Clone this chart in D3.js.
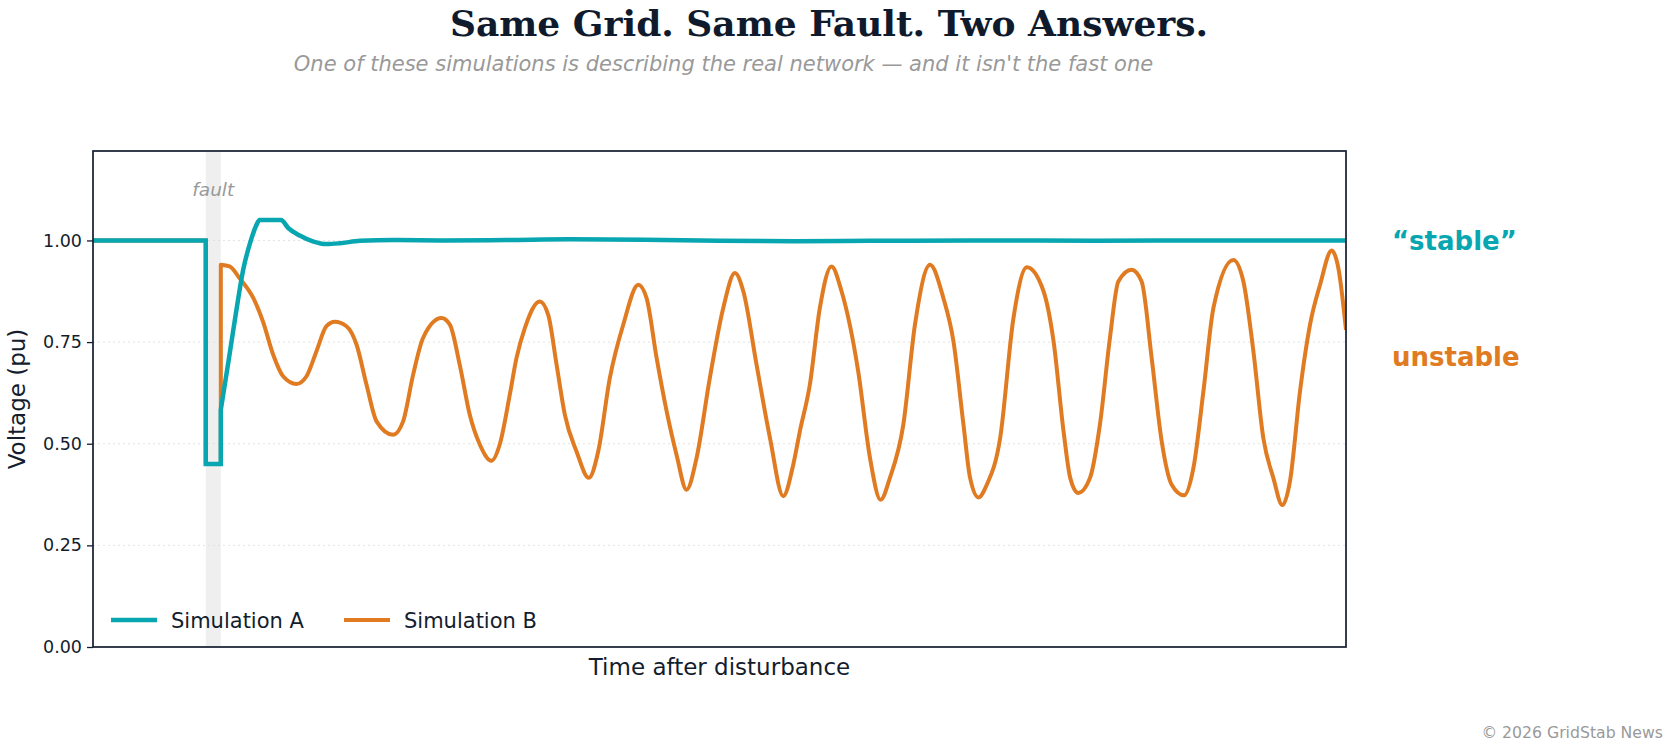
<!DOCTYPE html>
<html>
<head>
<meta charset="utf-8">
<script src="https://cdn.jsdelivr.net/npm/d3@7"></script>
<style>
  body { margin: 0; background: #fff; }
  svg text { font-family: "DejaVu Sans", sans-serif; }
</style>
</head>
<body>
<svg id="chart" width="1676" height="748"></svg>
<script>
// Data (time in s after start, voltage in pu)
const faultStart = 0.9;
const faultEnd = 1.02;

// Simulation A: step part (linear) then smooth recovery
const timeA_step = [0, 0.9, 0.9, 1.02, 1.02];
const voltA_step = [1.0, 1.0, 0.45, 0.45, 0.584];
const timeA = [1.02, 1.08, 1.14, 1.2, 1.26, 1.3, 1.33, 1.5, 1.56, 1.65, 1.76, 1.86, 1.97, 2.13, 2.4, 2.8,
               3.3, 3.8, 4.4, 5.0, 5.6, 6.2, 7.0, 8.0, 9.0, 10.0];
const voltA = [0.584, 0.7, 0.82, 0.93, 1.0, 1.035, 1.05, 1.05, 1.03, 1.012, 0.997, 0.991, 0.993, 0.999, 1.001, 1.0,
               1.001, 1.003, 1.002, 0.999, 0.998, 0.999, 1.0, 0.9995, 1.0, 1.0];

// Simulation B
const timeB_step = [0, 0.9, 0.9, 1.02, 1.02];
const voltB_step = [1.0, 1.0, 0.45, 0.45, 0.94];
const timeB = [1.02, 1.09, 1.17, 1.28, 1.357, 1.438, 1.517, 1.624, 1.704, 1.783, 1.863, 1.93, 2.023, 2.103,
  2.183, 2.263, 2.395, 2.475, 2.555, 2.634, 2.781, 2.848, 2.927, 3.007, 3.087, 3.18, 3.246, 3.326, 3.38, 3.447,
  3.566, 3.633, 3.7, 3.766, 3.859, 3.957, 4.032, 4.125, 4.232, 4.352, 4.418, 4.498, 4.578, 4.657, 4.737, 4.817,
  4.923, 5.03, 5.123, 5.19, 5.296, 5.403, 5.509, 5.589, 5.641, 5.721, 5.801, 5.894, 5.974, 6.107, 6.201, 6.286,
  6.36, 6.467, 6.56, 6.68, 6.787, 6.867, 6.947, 7.0, 7.067, 7.133, 7.24, 7.346, 7.453, 7.586, 7.666, 7.746,
  7.799, 7.863, 7.957, 8.036, 8.116, 8.183, 8.289, 8.369, 8.449, 8.529, 8.609, 8.707, 8.782, 8.862, 8.942,
  9.101, 9.181, 9.261, 9.34, 9.42, 9.492, 9.553, 9.633, 9.713, 9.793, 9.886, 9.939, 10.0];
const voltB = [0.94, 0.936, 0.907, 0.858, 0.8, 0.719, 0.666, 0.647, 0.666, 0.727, 0.789, 0.8, 0.789, 0.744,
  0.645, 0.555, 0.522, 0.555, 0.67, 0.76, 0.809, 0.793, 0.694, 0.571, 0.498, 0.458, 0.498, 0.62, 0.711, 0.785,
  0.85, 0.817, 0.694, 0.571, 0.481, 0.416, 0.481, 0.662, 0.793, 0.891, 0.858, 0.711, 0.58, 0.473, 0.387, 0.465,
  0.662, 0.834, 0.92, 0.875, 0.694, 0.514, 0.371, 0.449, 0.53, 0.645, 0.834, 0.936, 0.875, 0.678, 0.465, 0.362,
  0.416, 0.547, 0.793, 0.94, 0.858, 0.752, 0.547, 0.416, 0.368, 0.399, 0.514, 0.809, 0.934, 0.875, 0.752, 0.53,
  0.416, 0.379, 0.416, 0.547, 0.76, 0.899, 0.928, 0.899, 0.711, 0.506, 0.399, 0.373, 0.44, 0.629, 0.834,
  0.952, 0.899, 0.727, 0.514, 0.416, 0.349, 0.408, 0.629, 0.793, 0.891, 0.975, 0.932, 0.78];

const yTicks = [0, 0.25, 0.5, 0.75, 1.0];
const seriesNames = ['Simulation A', 'Simulation B'];
const endLabels = ['\u201cstable\u201d', 'unstable'];
const endLabelValues = [1.0, 0.715];

// Render params
const W = 1676, H = 748;
const margin = {left: 93, top: 151, right: 330, bottom: 101};
const teal = '#07a6b0', orange = '#e07b22', ink = '#131d2e', grey = '#999999';
const widthA = 4.5, widthB = 4;

const svg = d3.select('#chart');
const plotW = W - margin.left - margin.right;
const plotH = H - margin.top - margin.bottom;

const x = d3.scaleLinear().domain([0, 10]).range([margin.left, margin.left + plotW]);
const y = d3.scaleLinear().domain([0, 1.22]).range([margin.top + plotH, margin.top]);

// fault band
svg.append('rect')
  .attr('x', x(faultStart)).attr('y', margin.top)
  .attr('width', x(faultEnd) - x(faultStart)).attr('height', plotH)
  .attr('fill', '#efefef');

// grid
svg.append('g')
  .selectAll('line')
  .data(yTicks.filter(d => d > 0))
  .join('line')
  .attr('x1', margin.left).attr('x2', margin.left + plotW)
  .attr('y1', d => y(d)).attr('y2', d => y(d))
  .attr('stroke', '#e2e2e2').attr('stroke-width', 1).attr('stroke-dasharray', '2,3');

svg.append('text')
  .attr('x', (x(faultStart) + x(faultEnd)) / 2).attr('y', 196)
  .attr('text-anchor', 'middle').attr('font-style', 'italic')
  .attr('font-size', 18.5).attr('fill', grey)
  .text('fault');

// lines: linear step part joined to smooth part
const stepLine = d3.line().x(d => x(d[0])).y(d => y(d[1]));
const smoothLine = d3.line().x(d => x(d[0])).y(d => y(d[1])).curve(d3.curveMonotoneX);

function pathFor(ts, vs, ts2, vs2) {
  const a = stepLine(ts.map((t, i) => [t, vs[i]]));
  const b = smoothLine(ts2.map((t, i) => [t, vs2[i]]));
  return a + b.replace(/^M/, 'L');
}

svg.append('clipPath').attr('id', 'plotclip')
  .append('rect').attr('x', margin.left).attr('y', margin.top).attr('width', plotW).attr('height', plotH);

svg.append('path')
  .attr('d', pathFor(timeB_step, voltB_step, timeB, voltB))
  .attr('fill', 'none').attr('stroke', orange).attr('stroke-width', widthB)
  .attr('stroke-linejoin', 'round')
  .attr('clip-path', 'url(#plotclip)');

svg.append('path')
  .attr('d', pathFor(timeA_step, voltA_step, timeA, voltA))
  .attr('fill', 'none').attr('stroke', teal).attr('stroke-width', widthA)
  .attr('stroke-linejoin', 'miter')
  .attr('clip-path', 'url(#plotclip)');

// axes
const yAxis = svg.append('g')
  .attr('transform', `translate(${margin.left},0)`)
  .call(d3.axisLeft(y).tickValues(yTicks).tickFormat(d3.format('.2f')).tickSize(6).tickPadding(5));
yAxis.select('.domain').remove();
yAxis.selectAll('.tick line').attr('stroke', ink).attr('stroke-width', 1.3);
yAxis.selectAll('.tick text').attr('font-size', 17.5).attr('fill', ink)
  .attr('font-family', '"DejaVu Sans", sans-serif');

// frame
svg.append('rect')
  .attr('x', margin.left).attr('y', margin.top).attr('width', plotW).attr('height', plotH)
  .attr('fill', 'none').attr('stroke', ink).attr('stroke-width', 1.7);

// legend
const legend = svg.append('g').selectAll('g')
  .data(seriesNames)
  .join('g')
  .attr('transform', (d, i) => `translate(${111 + i * 233}, 620)`);
legend.append('line')
  .attr('x1', 0).attr('x2', 46).attr('y1', 0).attr('y2', 0)
  .attr('stroke', (d, i) => i ? orange : teal).attr('stroke-width', (d, i) => i ? widthB : widthA);
legend.append('text')
  .attr('x', 60).attr('y', 0).attr('dy', '0.36em')
  .attr('font-size', 21).attr('fill', ink)
  .text(d => d);

// end labels
svg.append('g').selectAll('text')
  .data(endLabels)
  .join('text')
  .attr('x', 1392).attr('y', (d, i) => y(endLabelValues[i])).attr('dy', '0.36em')
  .attr('font-size', 26).attr('font-weight', 'bold')
  .attr('fill', (d, i) => i ? orange : teal)
  .text(d => d);

// axis titles
svg.append('text')
  .attr('x', margin.left + plotW / 2).attr('y', 675)
  .attr('text-anchor', 'middle').attr('font-size', 23).attr('fill', ink)
  .text('Time after disturbance');

svg.append('text')
  .attr('transform', `translate(25, ${margin.top + plotH / 2}) rotate(-90)`)
  .attr('text-anchor', 'middle').attr('font-size', 23).attr('fill', ink)
  .text('Voltage (pu)');

// titles
svg.append('text')
  .attr('x', 829).attr('y', 36)
  .attr('text-anchor', 'middle')
  .style('font-family', '"DejaVu Serif", serif')
  .attr('font-weight', 'bold').attr('font-size', 36).attr('fill', '#0f1b2d')
  .text('Same Grid. Same Fault. Two Answers.');

svg.append('text')
  .attr('x', margin.left + plotW / 2 + 4).attr('y', 71)
  .attr('text-anchor', 'middle').attr('font-style', 'italic')
  .attr('font-size', 21).attr('fill', grey)
  .text("One of these simulations is describing the real network \u2014 and it isn't the fast one");

svg.append('text')
  .attr('x', 1663).attr('y', 738)
  .attr('text-anchor', 'end').attr('font-size', 15.7).attr('fill', grey)
  .text('\u00a9 2026 GridStab News');
</script>
</body>
</html>
